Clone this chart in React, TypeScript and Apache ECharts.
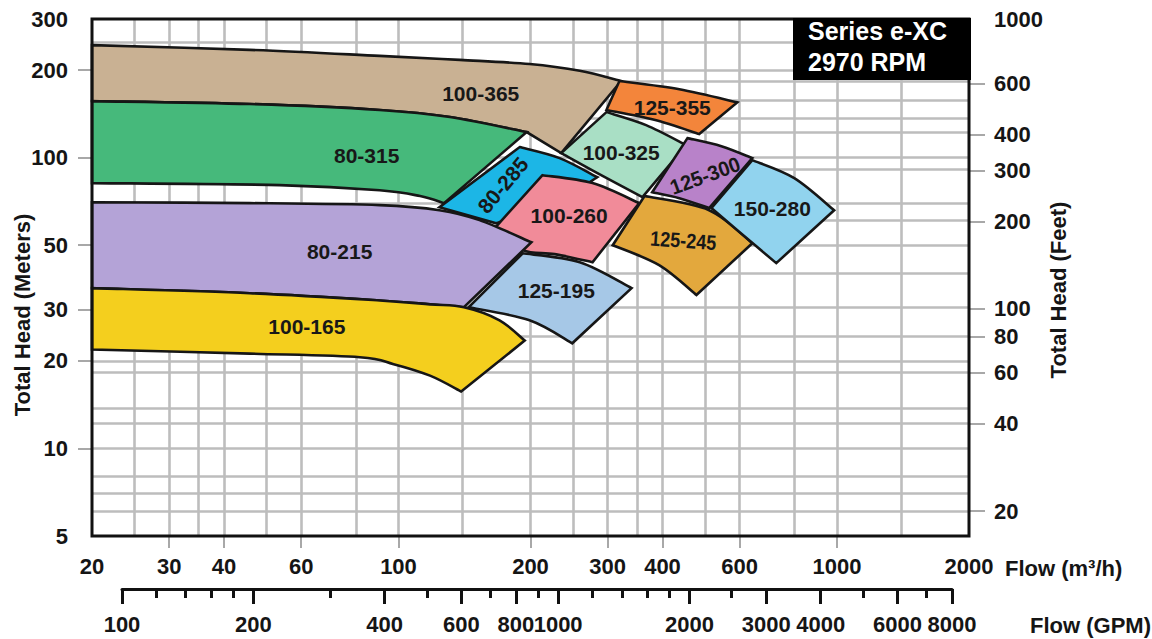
import React, { useEffect, useRef } from 'react';
import * as echarts from 'echarts';

// ---- axis values ----
const FLOW_LABELS = [20, 30, 40, 60, 100, 200, 300, 400, 600, 1000, 2000];
const FLOW_TICKS = [30, 40, 60, 100, 200, 300, 400, 600, 1000];
const HEAD_M_LABELS = [5, 10, 20, 30, 50, 100, 200, 300];
const HEAD_M_TICKS = [10, 20, 30, 50, 100, 200];
const HEAD_FT_LABELS = [20, 40, 60, 80, 100, 200, 300, 400, 600, 1000];
const HEAD_FT_TICKS = [20, 40, 60, 80, 100, 200, 300, 400, 600];
const GPM_LABELS = [100, 200, 400, 600, 800, 1000, 2000, 3000, 4000, 6000, 8000];
const GPM_MINOR = [120, 140, 160, 180, 300, 500, 700, 900, 1200, 1400, 1600, 1800, 2500, 5000, 7000];
const FLOW_GRID = [25, 30, 35, 40, 50, 60, 80, 100, 140, 200, 250, 300, 350, 400, 500, 600, 800, 1000, 1400];
const HEAD_GRID = [250, 200, 183, 158, 137, 122, 100, 91.4, 70, 61, 50, 40, 30.5, 24.4, 20, 18.3, 13.7, 12.2, 10, 8, 7, 6.1];

// ---- pump coverage outlines, as edges of [flow m3/h, head m] points ----
const S_100_365 = [
  [[20, 244], [45.8, 235], [90.6, 224], [138, 217], [199, 210], [259, 199], [322, 183.5]],
  [[322, 183.5], [235, 103.7]],
  [[235, 103.7], [196, 122.5]],
  [[196, 122.5], [131, 138], [90.6, 146], [45.8, 153], [20, 156.6]],
  [[20, 156.6], [20, 244]],
];
const S_80_315 = [
  [[20, 156.6], [45.8, 153], [90.6, 146], [131, 138], [196, 122.5]],
  [[196, 122.5], [127, 69.8]],
  [[127, 69.8], [112, 73.8], [90.6, 77.3], [53.6, 80.5], [20, 81.8]],
  [[20, 81.8], [20, 156.6]],
];
const S_80_285 = [
  [[189, 108.8], [233, 99.7], [284, 85.7]],
  [[284, 85.7], [233, 71.4], [167, 59.5]],
  [[167, 59.5], [124, 67.6]],
  [[124, 67.6], [189, 108.8]],
];
const S_125_245 = [
  [[364, 73.8], [511, 66.0], [641, 50.8]],
  [[641, 50.8], [478, 33.7]],
  [[478, 33.7], [393, 42.7], [308, 50.0]],
  [[308, 50.0], [364, 73.8]],
];
const S_100_260 = [
  [[213, 87.1], [277, 81.8], [354, 69.8]],
  [[354, 69.8], [277, 43.7]],
  [[277, 43.7], [227, 46.6], [192, 48.1], [165.6, 57.2]],
  [[165.6, 57.2], [213, 87.1]],
];
const S_80_215 = [
  [[20, 70.3], [45.8, 69.8], [90.6, 68.7], [124, 66.0], [153, 61.0], [201, 51.2]],
  [[201, 51.2], [141, 30.6]],
  [[141, 30.6], [118, 31.3], [90.6, 32.3], [45.8, 34.2], [20, 35.6]],
  [[20, 35.6], [20, 70.3]],
];
const S_125_195 = [
  [[192, 46.9], [259, 43.7], [340, 35.6]],
  [[340, 35.6], [249, 23.0]],
  [[249, 23.0], [199, 27.6], [144.5, 30.6]],
  [[144.5, 30.6], [192, 46.9]],
];
const S_100_165 = [
  [[20, 35.6], [45.8, 34.2], [90.6, 32.3], [118, 31.3], [141, 30.6], [170, 27.6], [194, 23.5]],
  [[194, 23.5], [139, 15.7]],
  [[139, 15.7], [118, 17.8], [97.5, 19.5], [81.6, 20.6], [45.8, 21.2], [20, 21.9]],
  [[20, 21.9], [20, 35.6]],
];
const S_125_355 = [
  [[319, 183.5], [437, 172], [592, 155]],
  [[592, 155], [485, 120.6]],
  [[485, 120.6], [383, 135], [298, 146]],
  [[298, 146], [319, 183.5]],
];
const S_100_325 = [
  [[298, 143.5], [367, 129.5], [453, 110.5]],
  [[453, 110.5], [360, 73.2]],
  [[360, 73.2], [287, 87.8], [235, 103.7]],
  [[235, 103.7], [298, 143.5]],
];
const S_125_300 = [
  [[456, 116.8], [545, 109.6], [641, 99.7]],
  [[641, 99.7], [511, 67.1]],
  [[511, 67.1], [437, 72.6], [379, 76.1]],
  [[379, 76.1], [456, 116.8]],
];
const S_150_280 = [
  [[641, 98.1], [799, 85.1], [985, 66.0]],
  [[985, 66.0], [727, 43.4]],
  [[727, 43.4], [599, 55.5], [517, 67.1]],
  [[517, 67.1], [641, 98.1]],
];

const MODELS = ['100-365', '80-315', '80-285', '125-245', '100-260', '80-215', '125-195', '100-165', '125-355', '100-325', '125-300', '150-280'];
const OUTLINES = [S_100_365, S_80_315, S_80_285, S_125_245, S_100_260, S_80_215, S_125_195, S_100_165, S_125_355, S_100_325, S_125_300, S_150_280];
const LABEL_AT = [[154, 166.4], [84.6, 102], [173, 80.5], [446, 52.0], [245, 63.4], [73.4, 47.7], [229, 35.0], [61.8, 26.3], [421, 149], [322, 104.6], [500, 87], [712, 67.1]];

// ---- styles ----
const FILLS = ['#c9b193', '#46b97b', '#1cb6e6', '#e3a83d', '#f18b99', '#b4a3d7', '#a6c8e7', '#f4cf1e', '#f3853b', '#a9dfc5', '#b882c9', '#91d3ee'];
const LABEL_ROT = [0, 0, 50, -4, 0, 0, 0, 0, 0, 0, 20, 0];
const LABEL_SX = [1, 1, 1, 0.86, 1, 1, 1, 1, 1, 1, 0.95, 1];
const FONT = '"Liberation Sans", Arial, Helvetica, sans-serif';

const fmt = (v: number) => String(Math.round(v));
const labelStyle = { fontFamily: FONT, fontWeight: 'bold' as const, fontSize: 22, color: '#151515' };

// Smooth outline through read points (Catmull-Rom per edge, sharp corners between edges)
function outlinePath(edges: number[][][], api: any): string {
  let d = '';
  edges.forEach((edge, ei) => {
    const p = edge.map((pt) => api.coord(pt));
    if (ei === 0) d += `M${p[0][0]},${p[0][1]}`;
    if (p.length === 2) {
      d += `L${p[1][0]},${p[1][1]}`;
      return;
    }
    for (let k = 0; k < p.length - 1; k++) {
      const p0 = p[k - 1] || p[k];
      const p1 = p[k];
      const p2 = p[k + 1];
      const p3 = p[k + 2] || p[k + 1];
      const c1x = p1[0] + (p2[0] - p0[0]) / 6;
      const c1y = p1[1] + (p2[1] - p0[1]) / 6;
      const c2x = p2[0] - (p3[0] - p1[0]) / 6;
      const c2y = p2[1] - (p3[1] - p1[1]) / 6;
      d += `C${c1x},${c1y},${c2x},${c2y},${p2[0]},${p2[1]}`;
    }
  });
  return d + 'Z';
}

export default function App() {
  const ref = useRef<HTMLDivElement>(null);
  useEffect(() => {
    const chart = echarts.init(ref.current as HTMLDivElement, null, { renderer: 'svg' });
    const option: any = {
      animation: false,
      backgroundColor: '#ffffff',
      grid: [
        { left: 92, top: 19, width: 877, height: 517, show: true, backgroundColor: '#ffffff', borderWidth: 0 },
        { left: 122, top: 585, width: 830, height: 4, show: false },
      ],
      xAxis: [
        {
          type: 'log', gridIndex: 0, min: 20, max: 2000, position: 'bottom',
          axisLine: { show: false },
          splitLine: { show: false },
          axisTick: { show: true, customValues: FLOW_TICKS, length: 12, lineStyle: { color: '#a8a8a8', width: 2 } },
          axisLabel: { ...labelStyle, customValues: FLOW_LABELS, margin: 19, formatter: fmt },
        },
        {
          type: 'log', gridIndex: 1, min: 100, max: 8000, position: 'bottom',
          axisLine: { show: true, lineStyle: { color: '#111', width: 3 } },
          splitLine: { show: false },
          axisTick: { show: true, customValues: GPM_LABELS, length: 15, lineStyle: { color: '#111', width: 3 } },
          axisLabel: { ...labelStyle, customValues: GPM_LABELS, margin: 24, formatter: fmt },
        },
        {
          type: 'log', gridIndex: 1, min: 100, max: 8000, position: 'bottom',
          axisLine: { show: false },
          splitLine: { show: false },
          axisTick: { show: true, customValues: GPM_MINOR, length: 9, lineStyle: { color: '#111', width: 3 } },
          axisLabel: { show: false },
        },
      ],
      yAxis: [
        {
          type: 'log', gridIndex: 0, min: 5, max: 300, position: 'left',
          axisLine: { show: false },
          splitLine: { show: false },
          axisTick: { show: true, customValues: HEAD_M_TICKS, length: 14, lineStyle: { color: '#a8a8a8', width: 2 } },
          axisLabel: { ...labelStyle, customValues: HEAD_M_LABELS, margin: 24, formatter: fmt },
        },
        {
          type: 'log', gridIndex: 0, min: 16.404, max: 1000, position: 'right',
          axisLine: { show: false },
          splitLine: { show: false },
          axisTick: { show: true, customValues: HEAD_FT_TICKS, length: 16, lineStyle: { color: '#a8a8a8', width: 2 } },
          axisLabel: { ...labelStyle, customValues: HEAD_FT_LABELS, margin: 25, formatter: fmt },
        },
        { type: 'value', gridIndex: 1, show: false },
      ],
      series: [
        {
          type: 'line', xAxisIndex: 0, yAxisIndex: 0, z: 1,
          data: [[20, 5]], symbol: 'none', silent: true,
          lineStyle: { width: 0 },
          markLine: {
            silent: true, z: 1, symbol: ['none', 'none'], label: { show: false },
            lineStyle: { color: '#bdbdbd', width: 2.6, type: 'solid' },
            emphasis: { disabled: true },
            data: [...FLOW_GRID.map((v) => ({ xAxis: v })), ...HEAD_GRID.map((v) => ({ yAxis: v }))],
          },
        },
        {
          type: 'custom', coordinateSystem: 'cartesian2d', xAxisIndex: 0, yAxisIndex: 0, z: 3,
          silent: true, clip: false,
          encode: { x: 0, y: 1 },
          data: LABEL_AT,
          renderItem: (params: any, api: any) => {
            const i = params.dataIndex;
            const c = api.coord([api.value(0), api.value(1)]);
            return {
              type: 'group',
              children: [
                {
                  type: 'path', z2: i,
                  shape: { pathData: outlinePath(OUTLINES[i], api) },
                  style: { fill: FILLS[i], stroke: '#161616', lineWidth: 2.6, lineJoin: 'miter' },
                },
                {
                  type: 'text', z2: 100, x: c[0], y: c[1],
                  rotation: (LABEL_ROT[i] * Math.PI) / 180,
                  scaleX: LABEL_SX[i],
                  style: {
                    text: MODELS[i], fill: '#181818', fontFamily: FONT, fontWeight: 'bold', fontSize: 21,
                    align: 'center', verticalAlign: 'middle',
                  },
                },
              ],
            };
          },
        },
      ],
      graphic: [
        { type: 'rect', z: 100, silent: true, shape: { x: 92, y: 19, width: 877, height: 517 }, style: { fill: 'none', stroke: '#111', lineWidth: 3 } },
        { type: 'rect', z: 101, silent: true, shape: { x: 793, y: 18, width: 178, height: 62 }, style: { fill: '#000' } },
        { type: 'text', z: 102, x: 808, y: 31, style: { text: 'Series e-XC', fill: '#fff', fontFamily: FONT, fontWeight: 'bold', fontSize: 25, verticalAlign: 'middle' } },
        { type: 'text', z: 102, x: 808, y: 62, style: { text: '2970 RPM', fill: '#fff', fontFamily: FONT, fontWeight: 'bold', fontSize: 25, verticalAlign: 'middle' } },
        { type: 'text', z: 102, x: 1005, y: 568, style: { text: 'Flow (m³/h)', fill: '#151515', fontFamily: FONT, fontWeight: 'bold', fontSize: 22, verticalAlign: 'middle' } },
        { type: 'text', z: 102, x: 1030, y: 625, style: { text: 'Flow (GPM)', fill: '#151515', fontFamily: FONT, fontWeight: 'bold', fontSize: 22, verticalAlign: 'middle' } },
        { type: 'text', z: 102, x: 22, y: 315, rotation: Math.PI / 2, style: { text: 'Total Head (Meters)', fill: '#151515', fontFamily: FONT, fontWeight: 'bold', fontSize: 22, align: 'center', verticalAlign: 'middle' } },
        { type: 'text', z: 102, x: 1058, y: 290, rotation: Math.PI / 2, style: { text: 'Total Head (Feet)', fill: '#151515', fontFamily: FONT, fontWeight: 'bold', fontSize: 22, align: 'center', verticalAlign: 'middle' } },
      ],
    };
    chart.setOption(option);
    return () => chart.dispose();
  }, []);
  return <div ref={ref} style={{ position: 'fixed', left: 0, top: 0, width: 1152, height: 639, background: '#fff' }} />;
}
